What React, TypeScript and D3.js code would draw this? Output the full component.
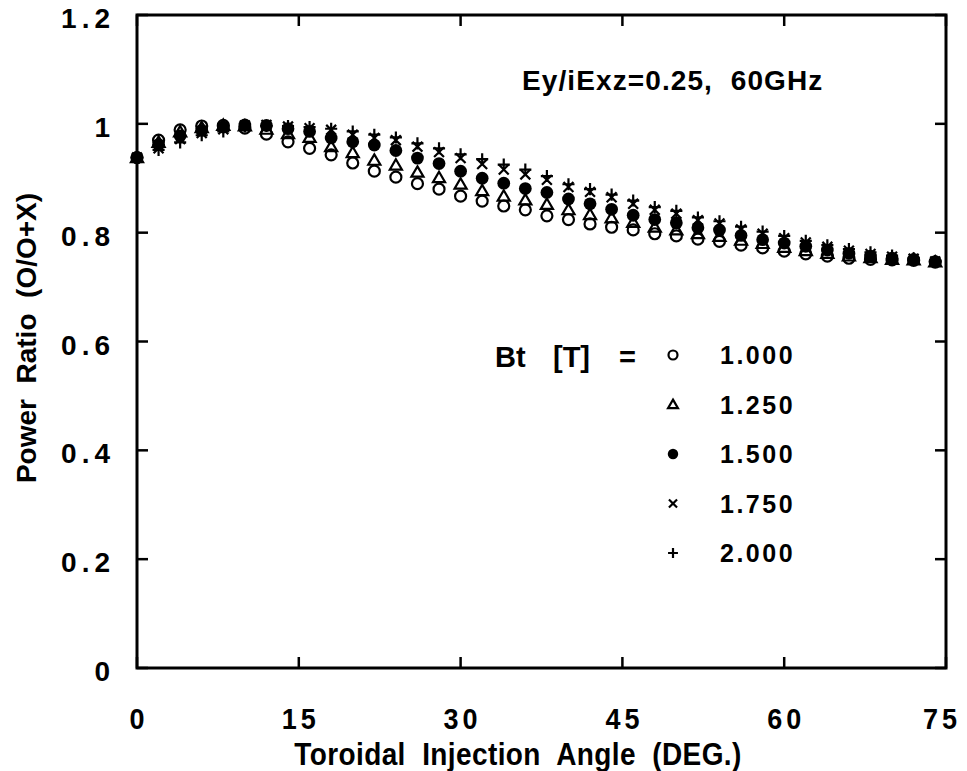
import React from "react";
import * as d3 from "d3";

const angles = [0, 2, 4, 6, 8, 10, 12, 14, 16, 18, 20, 22, 24, 26, 28, 30, 32, 34, 36, 38, 40, 42, 44, 46, 48, 50, 52, 54, 56, 58, 60, 62, 64, 66, 68, 70, 72, 74];

const bt1000 = [0.938, 0.970, 0.989, 0.996, 0.997, 0.992, 0.981, 0.967, 0.955, 0.943, 0.928, 0.913, 0.902, 0.890, 0.880, 0.867, 0.858, 0.849, 0.842, 0.831, 0.824, 0.816, 0.810, 0.805, 0.798, 0.794, 0.788, 0.784, 0.777, 0.772, 0.766, 0.761, 0.757, 0.753, 0.751, 0.750, 0.749, 0.746];
const bt1250 = [0.938, 0.966, 0.985, 0.993, 0.997, 0.996, 0.990, 0.982, 0.975, 0.958, 0.947, 0.933, 0.924, 0.911, 0.901, 0.889, 0.877, 0.867, 0.860, 0.852, 0.842, 0.833, 0.827, 0.819, 0.810, 0.805, 0.798, 0.793, 0.786, 0.780, 0.773, 0.767, 0.762, 0.757, 0.754, 0.751, 0.750, 0.746];
const bt1500 = [0.938, 0.962, 0.978, 0.988, 0.994, 0.998, 0.997, 0.991, 0.986, 0.974, 0.967, 0.961, 0.951, 0.937, 0.927, 0.913, 0.900, 0.891, 0.881, 0.874, 0.862, 0.853, 0.843, 0.832, 0.824, 0.818, 0.809, 0.805, 0.795, 0.787, 0.781, 0.775, 0.768, 0.762, 0.757, 0.753, 0.751, 0.747];
const bt1750 = [0.938, 0.955, 0.972, 0.983, 0.990, 0.997, 0.998, 0.995, 0.992, 0.989, 0.980, 0.974, 0.970, 0.958, 0.948, 0.937, 0.926, 0.916, 0.907, 0.897, 0.884, 0.875, 0.865, 0.853, 0.842, 0.835, 0.823, 0.817, 0.806, 0.798, 0.790, 0.782, 0.774, 0.767, 0.761, 0.756, 0.752, 0.747];
const bt2000 = [0.938, 0.952, 0.966, 0.979, 0.986, 0.995, 0.996, 0.996, 0.994, 0.991, 0.986, 0.980, 0.975, 0.964, 0.955, 0.944, 0.935, 0.925, 0.916, 0.904, 0.889, 0.880, 0.870, 0.859, 0.847, 0.840, 0.828, 0.821, 0.811, 0.802, 0.794, 0.785, 0.777, 0.770, 0.764, 0.758, 0.753, 0.748];

const seriesLabels = ["1.000", "1.250", "1.500", "1.750", "2.000"];
const seriesKinds = ["circle", "triangle", "dot", "cross", "plus"];
const seriesValues = [bt1000, bt1250, bt1500, bt1750, bt2000];

const yTicks = [0, 0.2, 0.4, 0.6, 0.8, 1, 1.2];
const yTickLabels = ["0", "0.2", "0.4", "0.6", "0.8", "1", "1.2"];
const xTicks = [0, 15, 30, 45, 60, 75];
const xTickLabels = ["0", "15", "30", "45", "60", "75"];

const FONT = "'Liberation Sans', Arial, Helvetica, sans-serif";

function Marker({ kind, x, y, s }: { kind: string; x: number; y: number; s: number }) {
  const sw = 2.2;
  if (kind === "circle")
    return <circle cx={x} cy={y} r={s * 0.5} fill="none" stroke="#000" strokeWidth={sw} />;
  if (kind === "triangle") {
    const h = s * 0.9;
    const w = s * 0.55;
    return (
      <path
        d={`M${x},${y - h * 0.6}L${x + w},${y + h * 0.45}L${x - w},${y + h * 0.45}Z`}
        fill="none"
        stroke="#000"
        strokeWidth={sw}
        strokeLinejoin="miter"
      />
    );
  }
  if (kind === "dot") return <circle cx={x} cy={y} r={s * 0.58} fill="#000" />;
  if (kind === "cross") {
    const a = s * 0.45;
    return (
      <path d={`M${x - a},${y - a}L${x + a},${y + a}M${x - a},${y + a}L${x + a},${y - a}`} stroke="#000" strokeWidth={sw} />
    );
  }
  const a = s * 0.55;
  return <path d={`M${x - a},${y}L${x + a},${y}M${x},${y - a}L${x},${y + a}`} stroke="#000" strokeWidth={sw} />;
}

export default function App() {
  const W = 967;
  const H = 771;
  const x = d3.scaleLinear().domain([0, 75]).range([137, 946]);
  const y = d3.scaleLinear().domain([0, 1.2]).range([668, 15]);
  const [x0, x1] = x.range();
  const [y0, y1] = y.range();
  const tick = 11;

  return (
    <svg width={W} height={H} style={{ position: "absolute", left: 0, top: 0, background: "#fff" }} fontFamily={FONT} fontWeight="bold">
      <rect width={W} height={H} fill="#fff" />
      {/* frame */}
      <rect x={x0} y={y1} width={x1 - x0} height={y0 - y1} fill="none" stroke="#000" strokeWidth={3} />
      {/* y ticks */}
      {yTicks.map((t, i) => (
        <g key={"yt" + i}>
          <line x1={x0} x2={x0 + tick} y1={y(t)} y2={y(t)} stroke="#000" strokeWidth={2.5} />
          <line x1={x1} x2={x1 - tick} y1={y(t)} y2={y(t)} stroke="#000" strokeWidth={2.5} />
          <text x={115} y={y(t) + 13} textAnchor="end" fontSize={28} letterSpacing={5}>
            {yTickLabels[i]}
          </text>
        </g>
      ))}
      {/* x ticks */}
      {xTicks.map((t, i) => (
        <g key={"xt" + i}>
          <line x1={x(t)} x2={x(t)} y1={y0} y2={y0 - tick} stroke="#000" strokeWidth={2.5} />
          <line x1={x(t)} x2={x(t)} y1={y1} y2={y1 + tick} stroke="#000" strokeWidth={2.5} />
          <text
            transform={`translate(${Math.min(x(t), 940) + 2},729) scale(1,1.12)`}
            textAnchor="middle"
            fontSize={27}
            letterSpacing={4}
          >
            {xTickLabels[i]}
          </text>
        </g>
      ))}
      {/* axis titles */}
      <text transform="translate(518,765) scale(1,1.1)" textAnchor="middle" fontSize={28} letterSpacing={0.4} style={{ whiteSpace: "pre" }}>
        {"Toroidal  Injection  Angle  (DEG.)"}
      </text>
      <text transform="translate(36,338) rotate(-90)" textAnchor="middle" fontSize={28} style={{ whiteSpace: "pre" }}>
        {"Power  Ratio  (O/O+X)"}
      </text>
      {/* annotation */}
      <text x={522} y={90} fontSize={28} letterSpacing={1.1} style={{ whiteSpace: "pre" }}>
        {"Ey/iExz=0.25,  60GHz"}
      </text>
      {/* data */}
      {seriesValues.map((vals, si) => (
        <g key={"s" + si}>
          {vals.map((v, i) => (
            <Marker key={i} kind={seriesKinds[si]} x={x(angles[i])} y={y(v)} s={11} />
          ))}
        </g>
      ))}
      {/* legend */}
      <text x={495} y={367} fontSize={29}>Bt</text>
      <text x={553} y={367} fontSize={29}>[T]</text>
      <text x={619} y={367} fontSize={29}>=</text>
      {seriesLabels.map((lab, i) => {
        const cy = 355 + i * 49.5;
        return (
          <g key={"lg" + i}>
            <Marker kind={seriesKinds[i]} x={673} y={cy} s={9} />
            <text x={720} y={cy + 9} fontSize={25} letterSpacing={2.5}>
              {lab}
            </text>
          </g>
        );
      })}
    </svg>
  );
}
